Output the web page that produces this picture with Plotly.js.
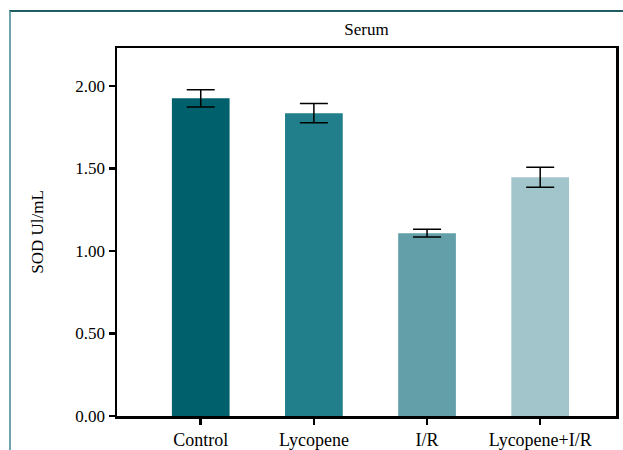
<!DOCTYPE html>
<html>
<head>
<meta charset="utf-8">
<script src="https://cdn.plot.ly/plotly-3.0.1.min.js"></script>
<style>
  html, body { margin: 0; padding: 0; background: #ffffff; }
  #wrap { position: relative; width: 623px; height: 450px; overflow: hidden; }
  #frame { position: absolute; left: 9px; top: 10px; right: -5px; bottom: -5px;
           border-top: 2px solid #1F5C63; border-left: 2px solid #6FA3AB; pointer-events: none; }
  #chart { position: absolute; left: 0; top: 0; width: 623px; height: 450px; }
</style>
</head>
<body>
<div id="wrap">
  <div id="chart"></div>
  <div id="frame"></div>
</div>
<script>
// SOD activity in serum, mean with error
const groups = ["Control", "Lycopene", "I/R", "Lycopene+I/R"];
const sodMean = [1.925, 1.835, 1.108, 1.447];
const sodErr = [0.052, 0.058, 0.024, 0.061];
const barColors = ["#00606B", "#217F8B", "#629FA8", "#A2C5CB"];
const yTicks = [0, 0.5, 1.0, 1.5, 2.0];

const serif = "'Times New Roman', 'Liberation Serif', 'DejaVu Serif', serif";

const trace = {
  type: "bar",
  x: groups.map((_, i) => i),
  y: sodMean,
  width: 0.51,
  marker: { color: barColors, line: { width: 0 } },
  error_y: { type: "data", array: sodErr, visible: true, color: "#000000", thickness: 1.5, width: 14 },
  hoverinfo: "skip"
};

const layout = {
  width: 623, height: 450,
  margin: { l: 117, r: 7, t: 48, b: 34 },
  paper_bgcolor: "#ffffff", plot_bgcolor: "#ffffff",
  showlegend: false,
  font: { family: serif, size: 17, color: "#000000" },
  title: { text: "Serum", x: 0.5, xref: "paper", xanchor: "center", y: 0.935, yanchor: "middle",
           font: { family: serif, size: 17, color: "#000000" } },
  xaxis: {
    range: [-0.74, 3.67],
    tickmode: "array", tickvals: groups.map((_, i) => i), ticktext: groups,
    ticks: "outside", ticklen: 6, tickwidth: 2.5, tickcolor: "#000000",
    showline: true, linecolor: "#000000", linewidth: 2.5, mirror: true,
    showgrid: false, zeroline: false,
    tickfont: { family: serif, size: 18, color: "#000000" }
  },
  yaxis: {
    range: [0, 2.23],
    tickmode: "array", tickvals: yTicks, ticktext: yTicks.map(v => v.toFixed(2)),
    ticks: "outside", ticklen: 6, tickwidth: 2.5, tickcolor: "#000000",
    showline: true, linecolor: "#000000", linewidth: 2.5, mirror: true,
    showgrid: false, zeroline: false,
    tickfont: { family: serif, size: 17, color: "#000000" },
    title: { text: "SOD Ul/mL", standoff: 28, font: { family: serif, size: 17, color: "#000000" } }
  }
};

Plotly.newPlot("chart", [trace], layout, { staticPlot: true, displayModeBar: false });
</script>
</body>
</html>
